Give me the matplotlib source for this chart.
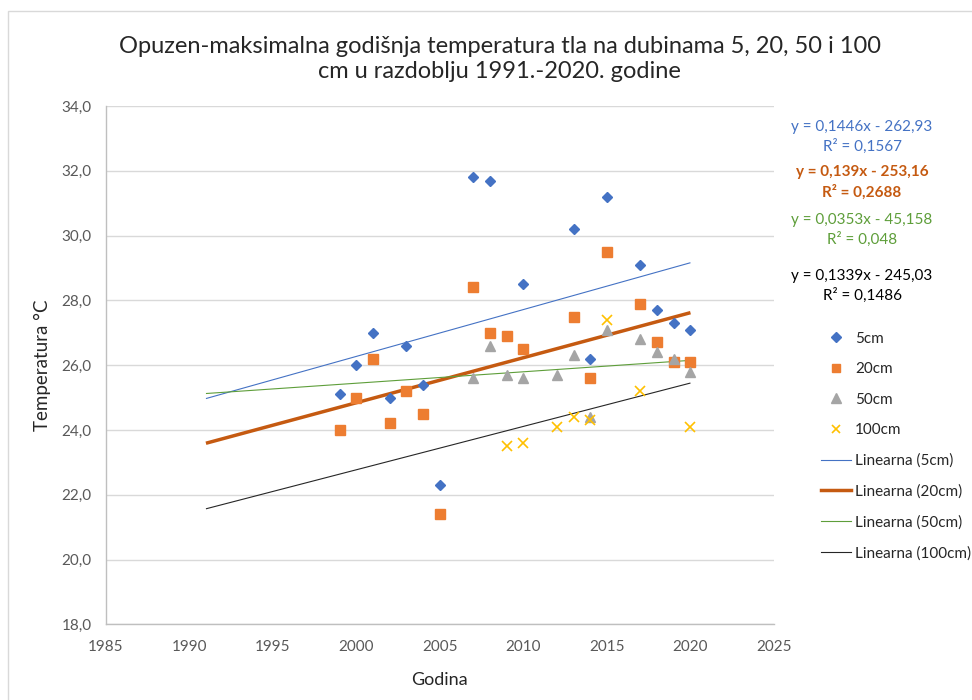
import matplotlib
matplotlib.use("Agg")
import matplotlib.pyplot as plt
import numpy as np
from matplotlib.lines import Line2D
from matplotlib.patches import Rectangle

plt.rcParams["font.family"] = ["Lato", "DejaVu Sans"]

# maksimalne godišnje temperature tla, Opuzen
god_5 = [1999, 2000, 2001, 2002, 2003, 2004, 2005, 2007, 2008, 2010,
         2013, 2014, 2015, 2017, 2018, 2019, 2020]
t_5 = [25.1, 26.0, 27.0, 25.0, 26.6, 25.4, 22.3, 31.8, 31.7, 28.5,
       30.2, 26.2, 31.2, 29.1, 27.7, 27.3, 27.1]

god_20 = [1999, 2000, 2001, 2002, 2003, 2004, 2005, 2007, 2008, 2009,
          2010, 2013, 2014, 2015, 2017, 2018, 2019, 2020]
t_20 = [24.0, 25.0, 26.2, 24.2, 25.2, 24.5, 21.4, 28.4, 27.0, 26.9,
        26.5, 27.5, 25.6, 29.5, 27.9, 26.7, 26.1, 26.1]

god_50 = [2007, 2008, 2009, 2010, 2012, 2013, 2014, 2015, 2017, 2018, 2019, 2020]
t_50 = [25.6, 26.6, 25.7, 25.6, 25.7, 26.3, 24.4, 27.1, 26.8, 26.4, 26.2, 25.8]

god_100 = [2009, 2010, 2012, 2013, 2014, 2015, 2017, 2020]
t_100 = [23.5, 23.6, 24.1, 24.4, 24.3, 27.4, 25.2, 24.1]

# linearni trendovi (nagib, odsječak, R²)
nagib = [0.1446, 0.139, 0.0353, 0.1339]
odsjecak = [-262.93, -253.16, -45.158, -245.03]
r2 = ["0,1567", "0,2688", "0,048", "0,1486"]
trend_raspon = [1991, 2020]

W, H = 972, 700
fig = plt.figure(figsize=(W / 100, H / 100), dpi=100)
ax = fig.add_axes([105.7 / W, 1 - 624.3 / H, (774 - 105.7) / W, (624.3 - 106) / H])

# okvir grafikona
fig.patches.append(Rectangle((8 / W, -0.01), 1.0, 1 - 11 / H + 0.01, transform=fig.transFigure,
                             fill=False, edgecolor="#d9d9d9", linewidth=1.0))

plava, narancasta, siva, zuta = "#4472C4", "#ED7D31", "#A5A5A5", "#FFC000"

ax.plot(god_5, t_5, linestyle="none", marker="D", ms=5.5, color=plava, zorder=3)
ax.plot(god_20, t_20, linestyle="none", marker="s", ms=6.5, color=narancasta, zorder=3)
ax.plot(god_50, t_50, linestyle="none", marker="^", ms=7, color=siva, zorder=3)
ax.plot(god_100, t_100, linestyle="none", marker="x", ms=6.5, mew=1.2, color=zuta, zorder=3)

boje_trenda = [plava, "#C55A11", "#5E9E3A", "#262626"]
debljine = [0.8, 2.5, 0.8, 0.8]
xt = np.array(trend_raspon)
for k in range(4):
    ax.plot(xt, nagib[k] * xt + odsjecak[k], color=boje_trenda[k], lw=debljine[k],
            solid_capstyle="butt", zorder=2)

ax.set_xlim(1985, 2025)
ax.set_ylim(18, 34)
ax.set_xticks(range(1985, 2026, 5))
ax.set_yticks(np.arange(18, 34.1, 2))
ax.set_yticklabels([f"{v:.1f}".replace(".", ",") for v in np.arange(18, 34.1, 2)])
ax.tick_params(length=0, labelsize=11, colors="#595959", pad=10)
ax.tick_params(axis="x", pad=11)
ax.grid(axis="y", color="#d9d9d9", lw=1)
ax.set_axisbelow(True)
for s in ["top", "right"]:
    ax.spines[s].set_visible(False)
for s in ["left", "bottom"]:
    ax.spines[s].set_color("#bfbfbf")
    ax.spines[s].set_linewidth(1)

ax.set_xlabel("Godina", fontsize=13, color="#262626", labelpad=13)
ax.set_ylabel("Temperatura °C", fontsize=13.5, color="#262626", labelpad=8)

fig.text(0.514, 1 - 59 / H,
         "Opuzen-maksimalna godišnja temperatura tla na dubinama 5, 20, 50 i 100\n"
         "cm u razdoblju 1991.-2020. godine",
         ha="center", va="center", fontsize=17, color="#262626", linespacing=1.28)

# jednadžbe trendova
boje_teksta = [plava, "#C55A11", "#5E9E3A", "#000000"]
y_jed = [137, 182, 230, 286]
for k in range(4):
    predznak = "-" if odsjecak[k] < 0 else "+"
    b = f"{abs(odsjecak[k]):g}".replace(".", ",")
    a = f"{nagib[k]:g}".replace(".", ",")
    fig.text(862 / W, 1 - y_jed[k] / H, f"y = {a}x {predznak} {b}\nR² = {r2[k]}",
             ha="center", va="center", fontsize=11, color=boje_teksta[k],
             fontweight="bold" if k == 1 else "normal", linespacing=1.45)

oznake = ["5cm", "20cm", "50cm", "100cm",
          "Linearna (5cm)", "Linearna (20cm)", "Linearna (50cm)", "Linearna (100cm)"]
rucke = [
    Line2D([], [], linestyle="none", marker="D", ms=5, color=plava),
    Line2D([], [], linestyle="none", marker="s", ms=6, color=narancasta),
    Line2D([], [], linestyle="none", marker="^", ms=6.5, color=siva),
    Line2D([], [], linestyle="none", marker="x", ms=6, mew=1.2, color=zuta),
] + [Line2D([], [], color=boje_trenda[k], lw=debljine[k]) for k in range(4)]
fig.legend(rucke, oznake, loc="upper left", bbox_to_anchor=(813 / W, 1 - 324 / H),
           frameon=False, fontsize=11, labelcolor="#262626", handlelength=2.0,
           handletextpad=0.25, labelspacing=1.08, borderpad=0)

fig.savefig("out.png", dpi=100)
